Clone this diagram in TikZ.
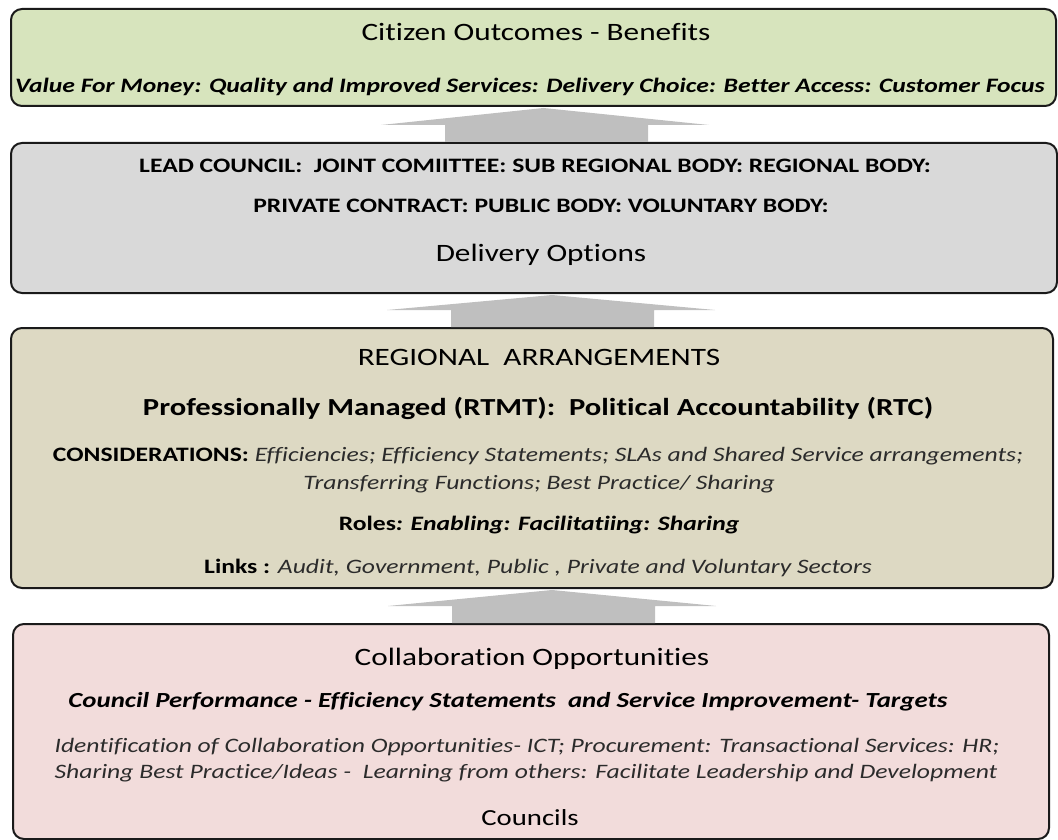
\documentclass[tikz,border=0pt]{standalone}
\usepackage{fontspec}
\setmainfont{Carlito}[FakeStretch=1.25, Ligatures=NoCommon]
\usetikzlibrary{calc}
\definecolor{greenbox}{HTML}{D7E4BD}
\definecolor{graybox}{HTML}{D9D9D9}
\definecolor{tanbox}{HTML}{DDD9C3}
\definecolor{pinkbox}{HTML}{F2DCDB}
\definecolor{framec}{HTML}{1A1A1A}
\definecolor{arrowc}{HTML}{BFBFBF}
\definecolor{softtext}{HTML}{2B2B2B}
\newcommand{\fs}[1]{\fontsize{#1}{#1}\selectfont}
\begin{document}
\begin{tikzpicture}[x=1pt,y=-1pt,
  panel/.style={draw=framec, line width=2pt, rounded corners=11pt, inner sep=0pt, anchor=north west},
  line/.style={anchor=base, inner sep=0pt, align=center}]
\useasboundingbox (0,0) rectangle (1058,840);

% panels, top to bottom
\node[panel, fill=greenbox, minimum width=1045pt, minimum height=97pt] (b1) at (10,8) {};
\node[panel, fill=graybox,  minimum width=1046pt, minimum height=150pt] (b2) at (10,142) {};
\node[panel, fill=tanbox,   minimum width=1042pt, minimum height=260pt] (b3) at (10,327) {};
\node[panel, fill=pinkbox,  minimum width=1036pt, minimum height=215pt] (b4) at (12,623) {};

% block arrows between panels
\foreach \lo/\hi/\dx in {b2/b1/0, b3/b2/8, b4/b3/10} {
  \fill[arrowc]
    ($(\lo.north)+(-89+\dx,0)$) -- ($(\lo.north)+(-89+\dx,-17)$) --
    ($(\lo.north)+(-153+\dx,-17)$) -- ($(\hi.south)+(10+\dx,1)$) --
    ($(\lo.north)+(175+\dx,-17)$) -- ($(\lo.north)+(114+\dx,-17)$) --
    ($(\lo.north)+(114+\dx,0)$) -- cycle;
}

% Citizen outcomes
\node[line] (t1) at (536,41) {\fs{25}Citizen Outcomes - Benefits};
\node[line] (t2) at (530,93) {\fs{20.5}\bfseries\itshape Value For Money: Quality and Improved Services: Delivery Choice: Better Access: Customer Focus};

% Delivery options
\node[line] (t3) at (535,173) {\fs{20.5}\bfseries LEAD COUNCIL:\ \ JOINT COMIITTEE: SUB REGIONAL BODY: REGIONAL BODY:};
\node[line] (t4) at (541,212) {\fs{20.5}\bfseries PRIVATE CONTRACT:\ PUBLIC BODY: VOLUNTARY BODY:};
\node[line] (t5) at (541,261) {\fs{25}Delivery Options};

% Regional arrangements
\node[line] (t6) at (539,365) {\fs{25}REGIONAL\ \ ARRANGEMENTS};
\node[line] (t7) at (538,415) {\fs{24.5}\bfseries Professionally Managed (RTMT):\ \ Political Accountability (RTC)};
\node[line] (t8) at (538,461) {\fs{20.5}\bfseries CONSIDERATIONS: \mdseries\itshape\color{softtext}Efficiencies; Efficiency Statements; SLAs and Shared Service arrangements;};
\node[line] (t9) at (539,489) {\fs{20.5}\itshape\color{softtext}Transferring Functions; Best Practice/ Sharing};
\node[line] (t10) at (539,530) {\fs{20.5}\bfseries Roles\itshape: Enabling: Facilitatiing: Sharing};
\node[line] (t11) at (538,573) {\fs{20.5}\bfseries Links : \mdseries\itshape\color{softtext}Audit, Government, Public , Private and Voluntary Sectors};

% Collaboration opportunities
\node[line] (t12) at (532,665) {\fs{25}Collaboration Opportunities};
\node[line] (t13) at (508,707) {\fs{21.5}\bfseries\itshape Council Performance - Efficiency Statements\ \ and Service Improvement- Targets};
\node[line] (t14) at (527,752) {\fs{20.5}\itshape\color{softtext}Identification of Collaboration Opportunities- ICT; Procurement: Transactional Services: HR;};
\node[line] (t15) at (526,778) {\fs{20.5}\itshape\color{softtext}Sharing Best Practice/Ideas -\ \ Learning from others: Facilitate Leadership and Development};
\node[line] (t16) at (530,825) {\fs{23}Councils};
\end{tikzpicture}
\end{document}
